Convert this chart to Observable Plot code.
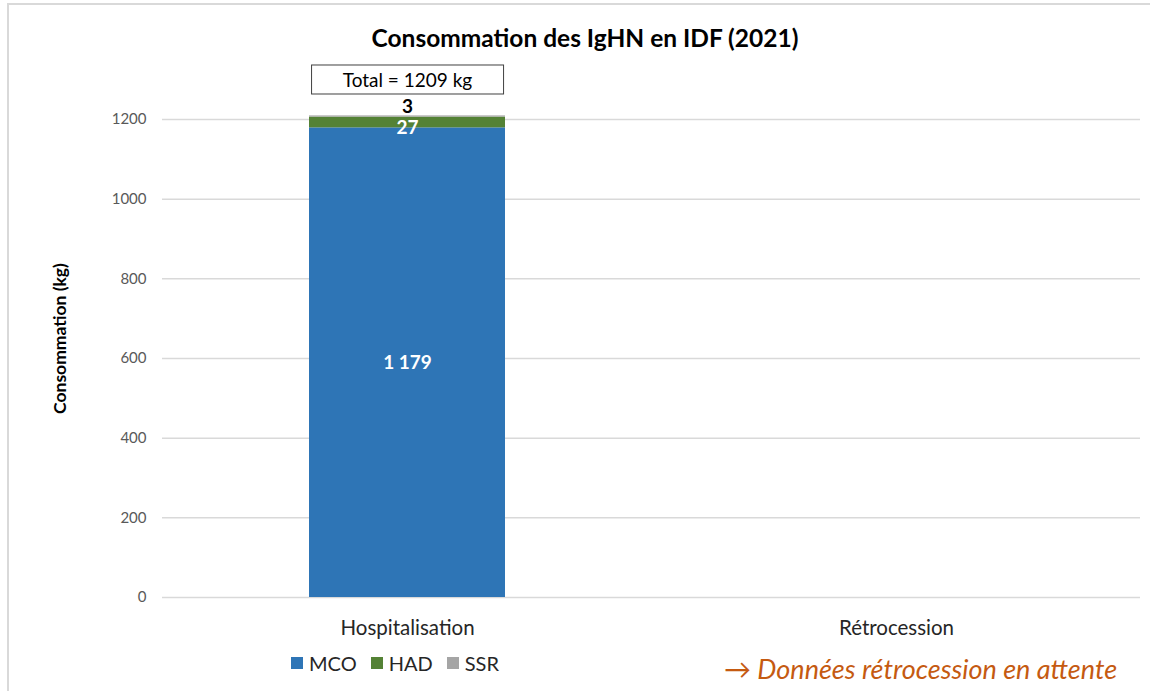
<!DOCTYPE html>
<html>
<head>
<meta charset="utf-8">
<script src="https://cdn.jsdelivr.net/npm/d3@7"></script>
<script src="https://cdn.jsdelivr.net/npm/@observablehq/plot@0.6"></script>
<style>
  html, body { margin: 0; padding: 0; background: #fff; }
  #wrap { position: relative; width: 1150px; height: 691px; overflow: hidden; font-family: Lato, "Open Sans", sans-serif; }
  #frame { position: absolute; left: 7px; top: 3px; right: -5px; bottom: -5px; border-left: 2px solid #d9d9d9; border-top: 2px solid #d9d9d9; pointer-events: none; }
  #title { position: absolute; left: 0; width: 1170px; top: 23px; text-align: center; font-weight: bold; font-size: 24.5px; color: #000; }
  #legend { position: absolute; left: 291px; top: 651px; display: flex; gap: 14px; font-size: 20px; color: #262626; }
  #legend span.item { display: flex; align-items: center; gap: 6px; }
  #legend span.sw { display: inline-block; width: 12px; height: 12px; }
  #note { position: absolute; left: 724px; top: 652px; font-size: 27px; font-style: italic; color: #C55A11; white-space: nowrap; }
  svg { position: absolute; left: 0; top: 0; }
</style>
</head>
<body>
<div id="wrap">
  <div id="frame"></div>
  <div id="title"></div>
  <div id="legend"></div>
  <div id="note"></div>
</div>
<script>
const title = "Consommation des IgHN en IDF (2021)";
const yLabel = "Consommation (kg)";
const categories = ["Hospitalisation", "Rétrocession"];
const series = ["MCO", "HAD", "SSR"];
const colors = ["#2E75B6", "#548235", "#A5A5A5"];
const mco = [1179, null];
const had = [27, null];
const ssr = [3, null];
const yTicks = [0, 200, 400, 600, 800, 1000, 1200];
const note = "→ Données rétrocession en attente";

const valuesBySeries = {MCO: mco, HAD: had, SSR: ssr};
const data = [];
for (const s of series) {
  categories.forEach((c, i) => {
    const v = valuesBySeries[s][i];
    if (v != null) data.push({category: c, series: s, value: v});
  });
}
const totals = categories.map((c, i) => ({
  category: c,
  total: series.reduce((a, s) => a + (valuesBySeries[s][i] || 0), 0)
})).filter(d => d.total > 0);

const fmt = v => d3.format(",")(v).replace(/,/g, " ");

const stackOpts = {x: "category", y: "value", z: "series", order: series};
const labelFor = name => d => d.series === name ? fmt(d.value) : null;

const plot = Plot.plot({
  width: 1150,
  height: 691,
  marginLeft: 162,
  marginRight: 10,
  marginTop: 119,
  marginBottom: 94,
  style: {fontFamily: "Lato, 'Open Sans', sans-serif", background: "transparent"},
  x: {domain: categories, paddingInner: 0.6, paddingOuter: 0.3, label: null},
  y: {domain: [0, 1200], label: null},
  color: {domain: series, range: colors},
  marks: [
    Plot.gridY(yTicks, {stroke: "#d9d9d9", strokeOpacity: 1, strokeWidth: 1.5}),
    Plot.axisY({ticks: yTicks, tickFormat: d => String(d), tickSize: 0, tickPadding: 16, fontSize: 15, color: "#595959", label: null}),
    Plot.axisX({tickSize: 0, tickPadding: 23, fontSize: 20.5, color: "#262626", label: null}),
    Plot.barY(data, Plot.stackY({...stackOpts, fill: "series"})),
    Plot.text(data, Plot.stackY({...stackOpts, text: labelFor("MCO"), fill: "white", fontWeight: "bold", fontSize: 19, dy: 0})),
    Plot.text(data, Plot.stackY({...stackOpts, text: labelFor("HAD"), fill: "white", fontWeight: "bold", fontSize: 19, dy: 5})),
    Plot.text(data, Plot.stackY({...stackOpts, text: labelFor("SSR"), fill: "black", fontWeight: "bold", fontSize: 19, dy: -10})),
    Plot.text(totals, {x: "category", y: "total", text: d => `Total = ${d.total} kg`, fontSize: 19, fill: "#000", dy: -35}),
    Plot.text([yLabel], {text: d => d, frameAnchor: "left", textAnchor: "middle", dx: -102, dy: -20, rotate: -90, fontWeight: "bold", fontSize: 17.5, fill: "#000"})
  ]
});

const wrap = document.getElementById("wrap");
wrap.insertBefore(plot, wrap.firstChild.nextSibling);
document.getElementById("title").textContent = title;
document.getElementById("note").textContent = note;
const legend = document.getElementById("legend");
series.forEach((s, i) => {
  const item = document.createElement("span");
  item.className = "item";
  item.innerHTML = `<span class="sw" style="background:${colors[i]}"></span>${s}`;
  legend.appendChild(item);
});

// box around the total label, as wide as the bar
const bw = plot.scale("x").bandwidth;
d3.select(plot).selectAll("text").filter(function() {
  return this.textContent.startsWith("Total =");
}).each(function() {
  const bb = this.getBBox();
  const cx = bb.x + bb.width / 2;
  const ctm = this.getAttribute("transform");
  const r = d3.select(this.parentNode).insert("rect", () => this)
    .attr("x", cx - bw / 2 + 2).attr("width", bw - 4)
    .attr("y", bb.y - 3).attr("height", bb.height + 6)
    .attr("fill", "white").attr("stroke", "#404040").attr("stroke-width", 1);
  if (ctm) r.attr("transform", ctm);
});
</script>
</body>
</html>
